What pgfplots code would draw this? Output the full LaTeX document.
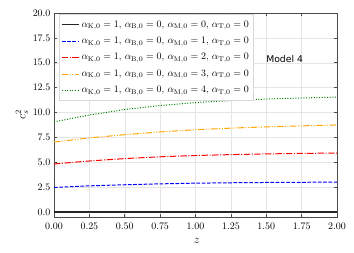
\documentclass[border=0pt]{standalone}
\usepackage{pgfplots}
\pgfplotsset{compat=1.18}
\usepackage{fontspec}
\newfontfamily\dejavu{DejaVu Sans}
\usetikzlibrary{calc}
\definecolor{mplorange}{RGB}{255,165,0}
\definecolor{mplgreen}{RGB}{0,128,0}
\definecolor{legframe}{RGB}{215,215,215}
\begin{document}
\begin{tikzpicture}
\begin{axis}[
  scale only axis,
  width=283bp, height=204bp,
  xmin=0, xmax=2, ymin=-0.5, ymax=20,
  xtick={0,0.25,...,2}, ytick={0,2.5,...,20},
  xticklabel style={/pgf/number format/fixed,/pgf/number format/fixed zerofill,/pgf/number format/precision=2, yshift=-3pt},
  yticklabel style={/pgf/number format/fixed,/pgf/number format/fixed zerofill,/pgf/number format/precision=1},
  tick align=inside, major tick length=3bp,
  tick style={black!70, line width=0.6pt},
  axis line style={black!70, line width=0.8pt},
  grid=major, major grid style={gray!20, line width=0.5pt},
  xlabel={$z$}, ylabel={$c_s^2$},
  xlabel style={at={(axis description cs:0.505,-0.115)}, anchor=center, font=\large},
  ylabel style={at={(axis description cs:-0.113,0.5)}, anchor=center, font=\large},
  legend cell align=left,
  legend style={draw=legframe, fill=white, row sep=4.6pt, inner xsep=2.5pt, inner ysep=4pt, at={(axis description cs:0.016,0.993)}, anchor=north west, font=\fontsize{9.7}{10}\selectfont},
]
\addplot[color=black!85, draw=black!85, solid, line width=1.3pt] coordinates {(0,0) (0.25,0) (0.5,0) (0.75,0) (1,0) (1.25,0) (1.5,0) (1.75,0) (2,0)};
\addlegendentry{$\alpha_{\mathrm{K},0}=1$, $\alpha_{\mathrm{B},0}=0$, $\alpha_{\mathrm{M},0}=0$, $\alpha_{\mathrm{T},0}=0$}
\addplot[color=blue, draw=blue, dash pattern=on 3.7pt off 1.6pt, line width=1pt] coordinates {(0,2.47) (0.25,2.63) (0.5,2.74) (0.75,2.83) (1,2.90) (1.25,2.94) (1.5,2.97) (1.75,2.99) (2,3.00)};
\addlegendentry{$\alpha_{\mathrm{K},0}=1$, $\alpha_{\mathrm{B},0}=0$, $\alpha_{\mathrm{M},0}=1$, $\alpha_{\mathrm{T},0}=0$}
\addplot[color=red, draw=red, dash pattern=on 6.4pt off 1.6pt on 1pt off 1.6pt, line width=1pt] coordinates {(0,4.83) (0.25,5.13) (0.5,5.37) (0.75,5.55) (1,5.68) (1.25,5.77) (1.5,5.84) (1.75,5.89) (2,5.93)};
\addlegendentry{$\alpha_{\mathrm{K},0}=1$, $\alpha_{\mathrm{B},0}=0$, $\alpha_{\mathrm{M},0}=2$, $\alpha_{\mathrm{T},0}=0$}
\addplot[color=mplorange, draw=mplorange, dash pattern=on 6.4pt off 1.6pt on 1pt off 1.6pt on 1pt off 1.6pt, line width=1pt] coordinates {(0,7.03) (0.25,7.45) (0.5,7.77) (0.75,8.05) (1,8.27) (1.25,8.43) (1.5,8.56) (1.75,8.66) (2,8.75)};
\addlegendentry{$\alpha_{\mathrm{K},0}=1$, $\alpha_{\mathrm{B},0}=0$, $\alpha_{\mathrm{M},0}=3$, $\alpha_{\mathrm{T},0}=0$}
\addplot[color=mplgreen, draw=mplgreen, dash pattern=on 1pt off 1.65pt, line width=1pt] coordinates {(0,9.06) (0.25,9.75) (0.5,10.3) (0.75,10.7) (1,11.0) (1.25,11.2) (1.5,11.35) (1.75,11.46) (2,11.55)};
\addlegendentry{$\alpha_{\mathrm{K},0}=1$, $\alpha_{\mathrm{B},0}=0$, $\alpha_{\mathrm{M},0}=4$, $\alpha_{\mathrm{T},0}=0$}
\node[font=\dejavu\fontsize{9.3}{11}\selectfont] at (axis cs:1.63,15.4) {Model 4};
\end{axis}
\pgfresetboundingbox
\path ($(current axis.south west)+(-54bp,-36bp)$) rectangle ($(current axis.north east)+(17bp,13bp)$);
\end{tikzpicture}
\end{document}
